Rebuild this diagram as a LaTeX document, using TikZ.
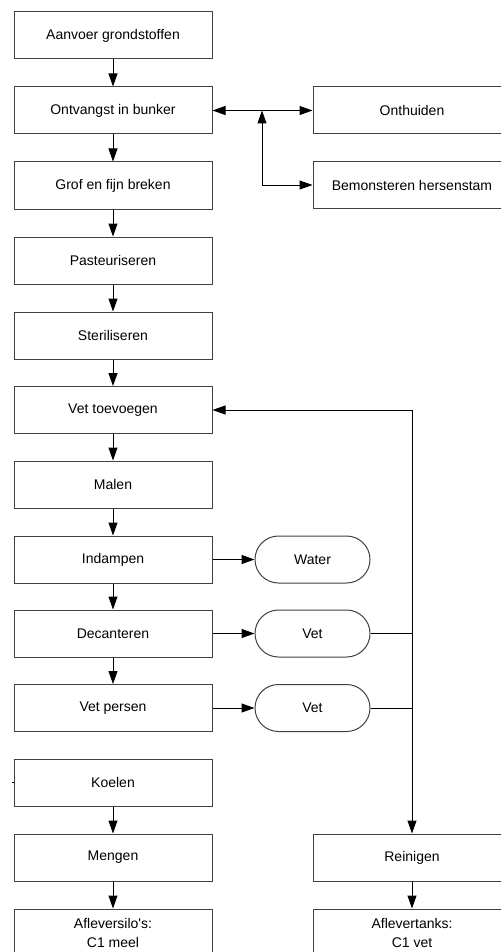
\documentclass[tikz,border=0pt]{standalone}
\usepackage{fontspec}
\setsansfont{Liberation Sans}
\usetikzlibrary{arrows.meta, shapes.misc, calc}
\newcommand{\figArrow}{{Triangle[length=13pt, width=9pt]}}

\begin{document}
\begin{tikzpicture}[x=1pt, y=-1pt, font=\sffamily\fontsize{14}{19}\selectfont,
	stap/.style={draw=black!75, line width=1pt, minimum width=198pt, minimum height=47pt, inner sep=0pt, align=center},
	eind/.style={draw=black!75, line width=1pt, rounded rectangle, minimum width=115pt, minimum height=47pt, inner sep=0pt},
	pijl/.style={line width=1pt, -\figArrow},
	lijn/.style={line width=1pt}]
	\def\xL{113}
	\def\xR{412}
	\def\xT{312.5}

	\useasboundingbox (0,0) rectangle (501,952);
	\clip (0,0) rectangle (501,952);

	% linker kolom
	\node[stap] (aanvoer)	at (\xL,35.5)	{Aanvoer grondstoffen};
	\node[stap] (bunker)	at (\xL,110.5)	{Ontvangst in bunker};
	\node[stap] (breken)	at (\xL,185.5)	{Grof en fijn breken};
	\node[stap] (pasteur)	at (\xL,260.5)	{Pasteuriseren};
	\node[stap] (steril)	at (\xL,335.5)	{Steriliseren};
	\node[stap] (toevoeg)	at (\xL,410)	{Vet toevoegen};
	\node[stap] (malen)		at (\xL,484.5)	{Malen};
	\node[stap] (indamp)	at (\xL,559.5)	{Indampen};
	\node[stap] (decant)	at (\xL,633.5)	{Decanteren};
	\node[stap] (persen)	at (\xL,708)	{Vet persen};
	\node[stap] (koelen)	at (\xL,782.5)	{Koelen};
	\node[stap] (mengen)	at (\xL,857.5)	{Mengen};
	\node[stap] (silo)		at (\xL,932.5)	{Afleversilo\textquotesingle s:\\C1 meel};

	% rechter kolom
	\node[stap] (onthuid)	at (\xR,110.5)	{Onthuiden};
	\node[stap] (bemonst)	at (\xR,185)	{Bemonsteren hersenstam};
	\node[stap] (reinig)	at (\xR,857.5)	{Reinigen};
	\node[stap] (tanks)		at (\xR,932.5)	{Aflevertanks:\\C1 vet};

	\node[eind] (water)		at (\xT,559.5)	{Water};
	\node[eind] (vetA)		at (\xT,633.5)	{Vet};
	\node[eind] (vetB)		at (\xT,708)	{Vet};

	\coordinate (knoop) at (262,110.5);
	\coordinate (terug) at (\xR,410);

	% verbindingen
	\draw[pijl]	(aanvoer) -- (bunker);
	\draw[pijl]	(bunker) -- (breken);
	\draw[pijl]	(breken) -- (pasteur);
	\draw[pijl]	(pasteur) -- (steril);
	\draw[pijl]	(steril) -- (toevoeg);
	\draw[pijl]	(toevoeg) -- (malen);
	\draw[pijl]	(malen) -- (indamp);
	\draw[pijl]	(indamp) -- (decant);
	\draw[pijl]	(decant) -- (persen);
	\draw[pijl]	(koelen) -- (mengen);
	\draw[pijl]	(mengen) -- (silo);
	\draw[pijl]	(reinig) -- (tanks);

	\draw[line width=1pt, \figArrow-\figArrow]	(bunker) -- (onthuid);
	\draw[line width=1pt, \figArrow-\figArrow]	(knoop) |- (bemonst);

	\draw[pijl]	(indamp) -- (water);
	\draw[pijl]	(decant) -- (vetA);
	\draw[pijl]	(persen) -- (vetB);
	\draw[lijn]	(vetA.east) -- (vetA -| terug);
	\draw[lijn]	(vetB.east) -- (vetB -| terug);
	\draw[pijl]	(terug) -- (toevoeg);
	\draw[pijl]	(terug) -- (reinig);

	\draw[lijn]	(koelen.west) -- ++(-1.5,0);
\end{tikzpicture}
\end{document}
